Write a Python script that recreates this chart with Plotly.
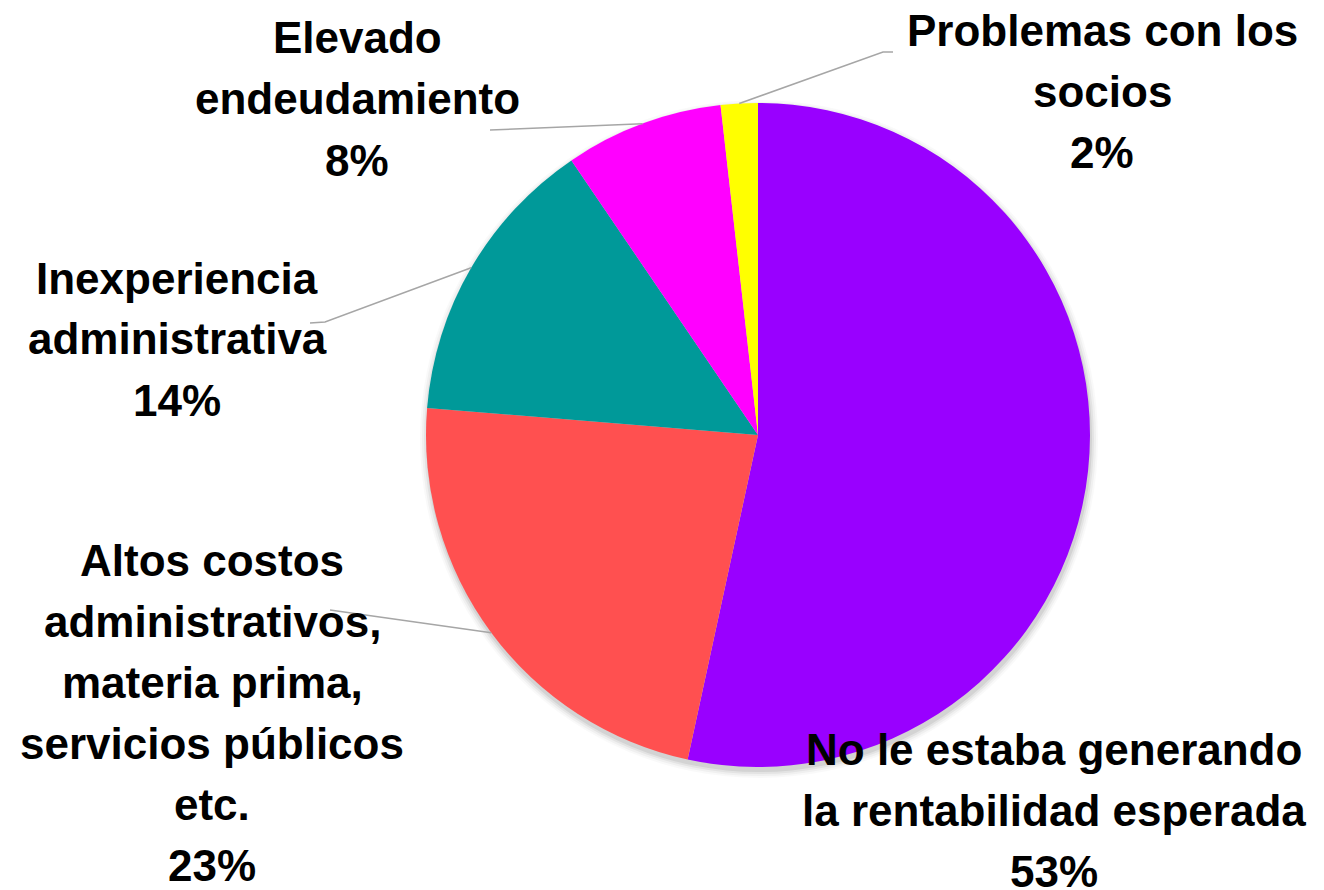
import math
import plotly.graph_objects as go

# Chart data (percent shares)
labels = [
    "No le estaba generando\nla rentabilidad esperada",
    "Altos costos\nadministrativos,\nmateria prima,\nservicios públicos\netc.",
    "Inexperiencia\nadministrativa",
    "Elevado\nendeudamiento",
    "Problemas con los\nsocios",
]
values = [53.4, 22.9, 14.2, 7.7, 1.8]
colors = ["#9900FF", "#FF5050", "#009999", "#FF00FF", "#FFFF00"]

W, H = 1324, 890
OFF = 8  # page body margin around the plot div
CX, CY, R = 758, 435, 332  # pie centre / radius in screen pixels
LINE = 61  # label line spacing

# first-line centre of each label block (screen pixels)
label_pos = [(1054, 749), (212, 560), (177, 278), (357, 38), (1102, 30)]
leader_end = [None, (330, 610), (310, 323), (490, 130), (893, 52)]
leader_elbow = [None, None, (325, 322), None, (883, 52)]

font = dict(family="Liberation Sans, Arial, sans-serif", size=44, color="black")


def px(x, y):
    return (x - OFF) / W, 1 - (y - OFF) / H


def dom(cx, cy, r):
    (a0, b0), (a1, b1) = px(cx - r, cy + r), px(cx + r, cy - r)
    return dict(x=[a0, a1], y=[b0, b1])


fig = go.Figure()

# soft drop shadow under the pie
for grow, alpha in [(7, 0.025), (5, 0.035), (3, 0.05), (1, 0.07)]:
    fig.add_trace(go.Pie(
        values=[1], textinfo="none", hoverinfo="skip", sort=False,
        marker=dict(colors=["rgba(0,0,0,%.3f)" % alpha], line=dict(width=0)),
        domain=dom(CX + 1, CY + 4, R + grow), showlegend=False,
    ))

fig.add_trace(go.Pie(
    labels=[l.replace("\n", " ") for l in labels],
    values=values,
    sort=False,
    direction="clockwise",
    rotation=0,
    textinfo="none",
    hoverinfo="label+percent",
    marker=dict(colors=colors, line=dict(width=0)),
    domain=dom(CX, CY, R),
    showlegend=False,
))

total = sum(values)
cum = 0
for i, v in enumerate(values):
    mid = (cum + v / 2) / total * 2 * math.pi
    cum += v
    lx, ly = label_pos[i]
    lines = labels[i].split("\n") + ["%d%%" % round(v / total * 100)]
    for k, t in enumerate(lines):
        ax, ay = px(lx, ly + k * LINE)
        fig.add_annotation(
            x=ax, y=ay, xref="paper", yref="paper",
            text="<b>%s</b>" % t,
            showarrow=False, font=font, align="center",
            xanchor="center", yanchor="middle",
        )
    if leader_end[i] is None:
        continue
    ex, ey = CX + R * math.sin(mid), CY - R * math.cos(mid)
    pts = [leader_end[i]]
    if leader_elbow[i]:
        pts.append(leader_elbow[i])
    pts.append((ex, ey))
    path = ""
    for k, (x, y) in enumerate(pts):
        xp, yp = px(x, y)
        path += ("M" if k == 0 else " L") + " %.5f %.5f" % (xp, yp)
    fig.add_shape(type="path", path=path, xref="paper", yref="paper",
                  line=dict(color="#A6A6A6", width=1.5))

fig.update_layout(
    width=W, height=H,
    margin=dict(l=0, r=0, t=0, b=0),
    paper_bgcolor="white",
    plot_bgcolor="white",
)

fig.write_html("out.html")
